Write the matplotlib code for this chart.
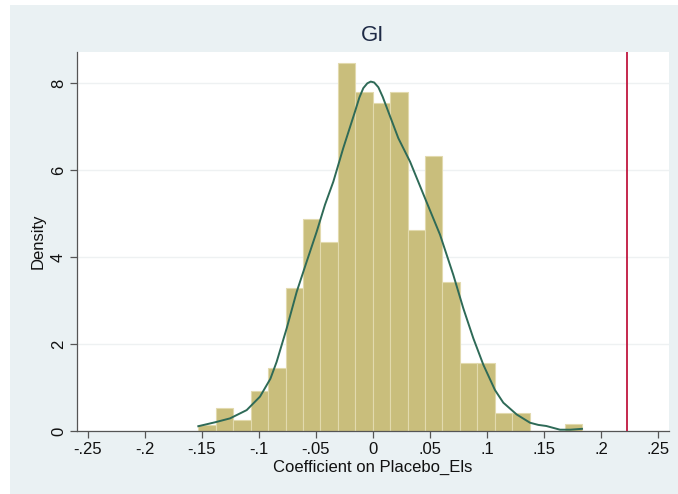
import numpy as np
import matplotlib
matplotlib.use("Agg")
import matplotlib.pyplot as plt
from matplotlib.patches import Rectangle

plt.rcParams['font.family'] = ['Liberation Sans', 'DejaVu Sans']

# histogram: 22 bins, density heights
bin_left = -0.1532
bin_right = 0.1833
heights = [0.13, 0.54, 0.25, 0.92, 1.44, 3.28, 4.87, 4.35, 8.45, 7.79, 7.53,
           7.79, 4.61, 6.33, 3.43, 1.57, 1.57, 0.41, 0.41, 0.0, 0.0, 0.15]

# kernel density curve
kd_x = [-0.1532, -0.1386, -0.1254, -0.1108, -0.0991, -0.0900, -0.0845, -0.0757,
        -0.0669, -0.0582, -0.0494, -0.0421, -0.0348, -0.0261, -0.0158, -0.0120,
        -0.0085, -0.0050, -0.0020, 0.0010, 0.0047, 0.0085, 0.0134, 0.0222, 0.0325,
        0.0456, 0.0588, 0.0704, 0.0792, 0.0880, 0.0968, 0.1070, 0.1143, 0.1260,
        0.1377, 0.1450, 0.1520, 0.1640, 0.1730, 0.1833]
kd_y = [0.11, 0.20, 0.29, 0.48, 0.79, 1.20, 1.59, 2.36, 3.20, 3.89, 4.58, 5.20,
        5.73, 6.50, 7.34, 7.66, 7.88, 7.99, 8.03, 8.01, 7.90, 7.68, 7.34, 6.73,
        6.19, 5.35, 4.51, 3.59, 2.82, 2.13, 1.52, 0.94, 0.65, 0.38, 0.19, 0.14,
        0.115, 0.03, 0.03, 0.05]

actual_coef = 0.2225

xticks = [-0.25, -0.2, -0.15, -0.1, -0.05, 0, 0.05, 0.1, 0.15, 0.2, 0.25]
xticklabels = ['-.25', '-.2', '-.15', '-.1', '-.05', '0', '.05', '.1', '.15', '.2', '.25']
yticks = [0, 2, 4, 6, 8]

bg = '#EAF1F3'
fig = plt.figure(figsize=(6.78, 4.94), dpi=100, facecolor='white')
fig.patches.append(Rectangle((10 / 678, 0), 1, 1 - 5 / 494, transform=fig.transFigure,
                             facecolor=bg, edgecolor='none', zorder=-10))

ax = fig.add_axes([77 / 678, 1 - 431 / 494, (669 - 77) / 678, (431 - 52) / 494])
ax.set_facecolor('white')

edges = np.linspace(bin_left, bin_right, len(heights) + 1)
ax.bar(edges[:-1], heights, width=np.diff(edges), align='edge',
       color='#C9BE7C', edgecolor='#E2DAAE', linewidth=0.8, zorder=2)
ax.plot(kd_x, kd_y, color='#2E6A57', linewidth=1.4, zorder=3,
        solid_joinstyle='round')
ax.axvline(actual_coef, color='#C0173F', linewidth=1.3, zorder=4)

ax.set_xlim(-0.2596, 0.2596)
ax.set_ylim(0, 8.71)
ax.set_xticks(xticks)
ax.set_xticklabels(xticklabels, fontsize=12)
ax.set_yticks(yticks)
ax.set_yticklabels([str(t) for t in yticks], fontsize=12, rotation=90, va='center')
ax.yaxis.grid(True, color='#EEF1F2', linewidth=1.0, zorder=0)
ax.set_axisbelow(True)

for s in ['top', 'right']:
    ax.spines[s].set_visible(False)
for s in ['left', 'bottom']:
    ax.spines[s].set_color('#555555')
    ax.spines[s].set_linewidth(0.9)
ax.tick_params(direction='out', length=5, width=0.9, color='#555555', pad=3,
               labelcolor='#111111')

ax.set_xlabel('Coefficient on Placebo_Els', fontsize=12, color='#111111', labelpad=2)
ax.set_ylabel('Density', fontsize=12, color='#111111', labelpad=4)
ax.set_title('GI', fontsize=16, color='#1E2A45', pad=8)

fig.savefig('out.png', dpi=100, facecolor=fig.get_facecolor())
